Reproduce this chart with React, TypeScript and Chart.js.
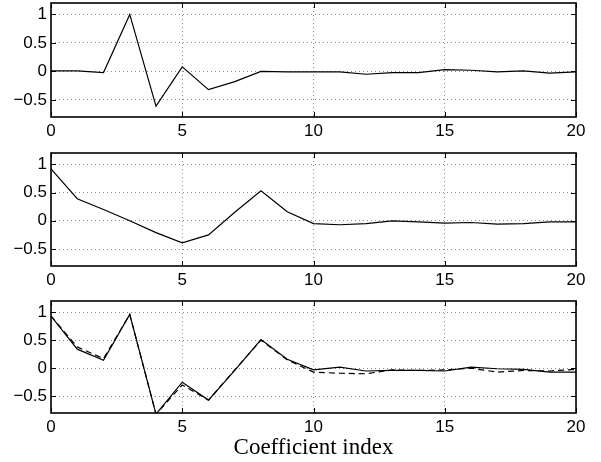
import React, { useEffect, useRef } from "react";
import { Chart, registerables } from "chart.js";

Chart.register(...registerables);

const coefficientIndex = [0, 1, 2, 3, 4, 5, 6, 7, 8, 9, 10, 11, 12, 13, 14, 15, 16, 17, 18, 19, 20];

const panel1Values = [0.01, 0.01, -0.02, 1.0, -0.61, 0.08, -0.32, -0.18, 0.0, -0.01, -0.01, -0.01, -0.05, -0.02, -0.02, 0.03, 0.02, -0.01, 0.01, -0.03, -0.01];

const panel2Values = [0.92, 0.39, 0.2, 0.0, -0.21, -0.39, -0.25, 0.15, 0.53, 0.16, -0.05, -0.07, -0.05, 0.0, -0.02, -0.04, -0.03, -0.06, -0.05, -0.02, -0.02];

const panel3Solid = [0.93, 0.34, 0.14, 0.96, -0.82, -0.25, -0.57, -0.04, 0.51, 0.16, -0.03, 0.02, -0.05, -0.04, -0.04, -0.05, 0.02, -0.01, -0.02, -0.07, -0.07];

const panel3Dashed = [0.93, 0.38, 0.17, 0.96, -0.82, -0.3, -0.57, -0.03, 0.5, 0.15, -0.07, -0.09, -0.1, -0.03, -0.04, -0.03, 0.0, -0.07, -0.04, -0.05, -0.02];

const xTickValues = [0, 5, 10, 15, 20];
const xTickLabels = ["0", "5", "10", "15", "20"];
const yTickValues = [-0.5, 0, 0.5, 1];
const yTickLabels = ["\u22120.5", "0", "0.5", "1"];
const xAxisTitle = "Coefficient index";

const frameAndTicks = {
  id: "frameAndTicks",
  afterDraw(chart: any) {
    const { ctx, chartArea } = chart;
    const { left, right, top, bottom } = chartArea;
    const xs = chart.scales.x;
    const ys = chart.scales.y;
    ctx.save();
    ctx.strokeStyle = "#000";
    ctx.lineWidth = 1;
    const tl = 5;
    ctx.beginPath();
    xTickValues.forEach((v) => {
      const px = Math.round(xs.getPixelForValue(v)) + 0.5;
      ctx.moveTo(px, bottom);
      ctx.lineTo(px, bottom - tl);
      ctx.moveTo(px, top);
      ctx.lineTo(px, top + tl);
    });
    yTickValues.forEach((v) => {
      const py = Math.round(ys.getPixelForValue(v)) + 0.5;
      ctx.moveTo(left, py);
      ctx.lineTo(left + tl, py);
      ctx.moveTo(right, py);
      ctx.lineTo(right - tl, py);
    });
    ctx.stroke();
    ctx.lineWidth = 1.6;
    ctx.strokeRect(left, top, right - left, bottom - top);
    ctx.restore();
  },
};

type Series = { values: number[]; dashed?: boolean };

function makeConfig(series: Series[], padTop: number, xHeight: number, withTitle: boolean): any {
  return {
    type: "line",
    data: {
      datasets: series.map((s) => ({
        data: coefficientIndex.map((x, i) => ({ x, y: s.values[i] })),
        borderColor: "#000",
        borderWidth: 1.2,
        borderDash: s.dashed ? [6, 4] : [],
        pointRadius: 0,
        tension: 0,
        fill: false,
      })),
    },
    options: {
      animation: false,
      responsive: false,
      maintainAspectRatio: false,
      events: [],
      layout: { padding: { top: padTop, right: 25, left: 0, bottom: 0 } },
      plugins: { legend: { display: false }, tooltip: { enabled: false }, title: { display: false } },
      scales: {
        x: {
          type: "linear",
          min: 0,
          max: 20,
          afterBuildTicks: (axis: any) => {
            axis.ticks = xTickValues.map((v) => ({ value: v }));
          },
          afterFit: (axis: any) => {
            axis.height = xHeight;
            axis.paddingLeft = 0;
            axis.paddingRight = 0;
          },
          ticks: {
            autoSkip: false,
            maxRotation: 0,
            padding: 4,
            color: "#000",
            font: { family: "'Liberation Sans', Arial, sans-serif", size: 17 },
            callback: (_v: any, i: number) => xTickLabels[i],
          },
          grid: { color: "#8a8a8a", lineWidth: 1, drawTicks: false },
          border: { display: false, dash: [1, 3] },
          title: withTitle
            ? {
                display: true,
                text: xAxisTitle,
                color: "#000",
                font: { family: "'Liberation Serif', 'Times New Roman', serif", size: 23, lineHeight: 1.1 },
                padding: { top: 0, bottom: 1 },
              }
            : { display: false },
        },
        y: {
          type: "linear",
          min: -0.8,
          max: 1.2,
          afterBuildTicks: (axis: any) => {
            axis.ticks = yTickValues.map((v) => ({ value: v }));
          },
          afterFit: (axis: any) => {
            axis.width = 51;
            axis.paddingTop = 0;
            axis.paddingBottom = 0;
          },
          ticks: {
            autoSkip: false,
            padding: 4,
            color: "#000",
            font: { family: "'Liberation Sans', Arial, sans-serif", size: 17 },
            callback: (_v: any, i: number) => yTickLabels[i],
          },
          grid: { color: "#8a8a8a", lineWidth: 1, drawTicks: false },
          border: { display: false, dash: [1, 3] },
        },
      },
    },
    plugins: [frameAndTicks],
  };
}

function Panel(props: { top: number; height: number; series: Series[]; padTop: number; xHeight: number; withTitle: boolean }) {
  const ref = useRef<HTMLCanvasElement | null>(null);
  useEffect(() => {
    if (!ref.current) return;
    const chart = new Chart(ref.current, makeConfig(props.series, props.padTop, props.xHeight, props.withTitle));
    return () => chart.destroy();
  }, []);
  return (
    <canvas
      ref={ref}
      width={601}
      height={props.height}
      style={{ position: "absolute", left: 0, top: props.top, width: 601, height: props.height }}
    />
  );
}

export default function App() {
  return (
    <div style={{ position: "absolute", left: 0, top: 0, width: 601, height: 462, background: "#fff" }}>
      <Panel top={0} height={150} series={[{ values: panel1Values }]} padTop={3} xHeight={33} withTitle={false} />
      <Panel top={150} height={150} series={[{ values: panel2Values }]} padTop={3} xHeight={34} withTitle={false} />
      <Panel
        top={300}
        height={162}
        series={[{ values: panel3Solid }, { values: panel3Dashed, dashed: true }]}
        padTop={1}
        xHeight={49}
        withTitle={true}
      />
    </div>
  );
}
